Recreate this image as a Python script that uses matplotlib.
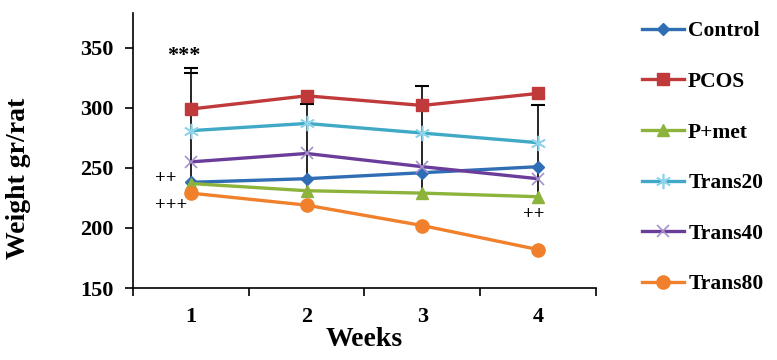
import matplotlib.pyplot as plt
import numpy as np

# data
weeks = ['1', '2', '3', '4']
control = [238, 241, 246, 251]
pcos = [299, 310, 302, 312]
p_met = [237, 231, 229, 226]
trans20 = [281, 287, 279, 271]
trans40 = [255, 262, 251, 241]
trans80 = [229, 219, 202, 182]

# error bar spans (bottom, top) and second cap at week 1
err_low = [229, 231, 229, 226]
err_high = [333, 303, 318, 302]
err_cap2 = [329, np.nan, np.nan, np.nan]

plt.rcParams['font.family'] = ['Liberation Serif', 'DejaVu Serif']
plt.rcParams['font.weight'] = 'bold'

x = np.arange(1, len(weeks) + 1)

fig = plt.figure(figsize=(7.77, 3.6), dpi=100)
ax = fig.add_axes([0.171, 0.2, 0.596, 0.764])

# error bars (black, behind the markers)
ax.vlines(x, err_low, err_high, color='black', lw=1.2, zorder=1)
ax.plot(x, err_high, ls='none', marker='_', ms=10, mew=1.5, color='black', zorder=1)
ax.plot(x, err_cap2, ls='none', marker='_', ms=10, mew=1.5, color='black', zorder=1)

lw = 2.4
ax.plot(x, control, color='#2f6db5', lw=lw, marker='D', ms=6, label='Control', zorder=3)
ax.plot(x, pcos, color='#c0393b', lw=lw, marker='s', ms=8, label='PCOS', zorder=3)
ax.plot(x, p_met, color='#8cb43c', lw=lw, marker='^', ms=8, label='P+met', zorder=3)
ax.plot(x, trans20, color='#3fa9c6', lw=lw, marker=(6, 2, 0), ms=11, mew=1.2,
        mec='#8fd3ea', label='Trans20', zorder=3)
ax.plot(x, trans40, color='#6a3d9a', lw=lw, marker='x', ms=9, mew=1.2,
        mec='#a490cc', label='Trans40', zorder=3)
ax.plot(x, trans80, color='#f0802c', lw=lw, marker='o', ms=9.5, label='Trans80', zorder=3)

# significance marks
ax.text(0.94, 343, '***', ha='center', va='center', fontsize=16, fontweight='bold')
ax.text(0.78, 241, '++', ha='center', va='center', fontsize=13.5, fontweight='bold')
ax.text(0.83, 219, '+++', ha='center', va='center', fontsize=13.5, fontweight='bold')
ax.text(3.96, 211, '++', ha='center', va='center', fontsize=13.5, fontweight='bold')

ax.set_xlim(0.5, 4.5)
ax.set_ylim(150, 379)
ax.set_xticks(x)
ax.set_xticklabels(weeks)
ax.set_xticks(np.arange(0.5, 4.6, 1), minor=True)
ax.tick_params(axis='x', which='major', length=0, labelsize=16, pad=14)
ax.tick_params(axis='x', which='minor', length=6, width=1.2, direction='out')
ax.set_yticks([150, 200, 250, 300, 350])
ax.tick_params(axis='y', length=6, width=1.2, labelsize=16, direction='out', pad=8)
for lab in ax.get_xticklabels() + ax.get_yticklabels():
    lab.set_fontweight('bold')

ax.spines['top'].set_visible(False)
ax.spines['right'].set_visible(False)
ax.spines['left'].set_linewidth(1.2)
ax.spines['bottom'].set_linewidth(1.2)

ax.set_xlabel('Weeks', fontsize=20, fontweight='bold', labelpad=0)
ax.set_ylabel('Weight gr/rat', fontsize=20, fontweight='bold')
ax.yaxis.set_label_coords(-0.22, 0.40)

leg = ax.legend(loc='upper left', bbox_to_anchor=(0.815, 0.965), bbox_transform=fig.transFigure,
                frameon=False, fontsize=15.5, handlelength=1.95, handletextpad=0.2,
                labelspacing=1.42, borderaxespad=0)
for t in leg.get_texts():
    t.set_fontweight('bold')

fig.savefig('out.png', dpi=100)
